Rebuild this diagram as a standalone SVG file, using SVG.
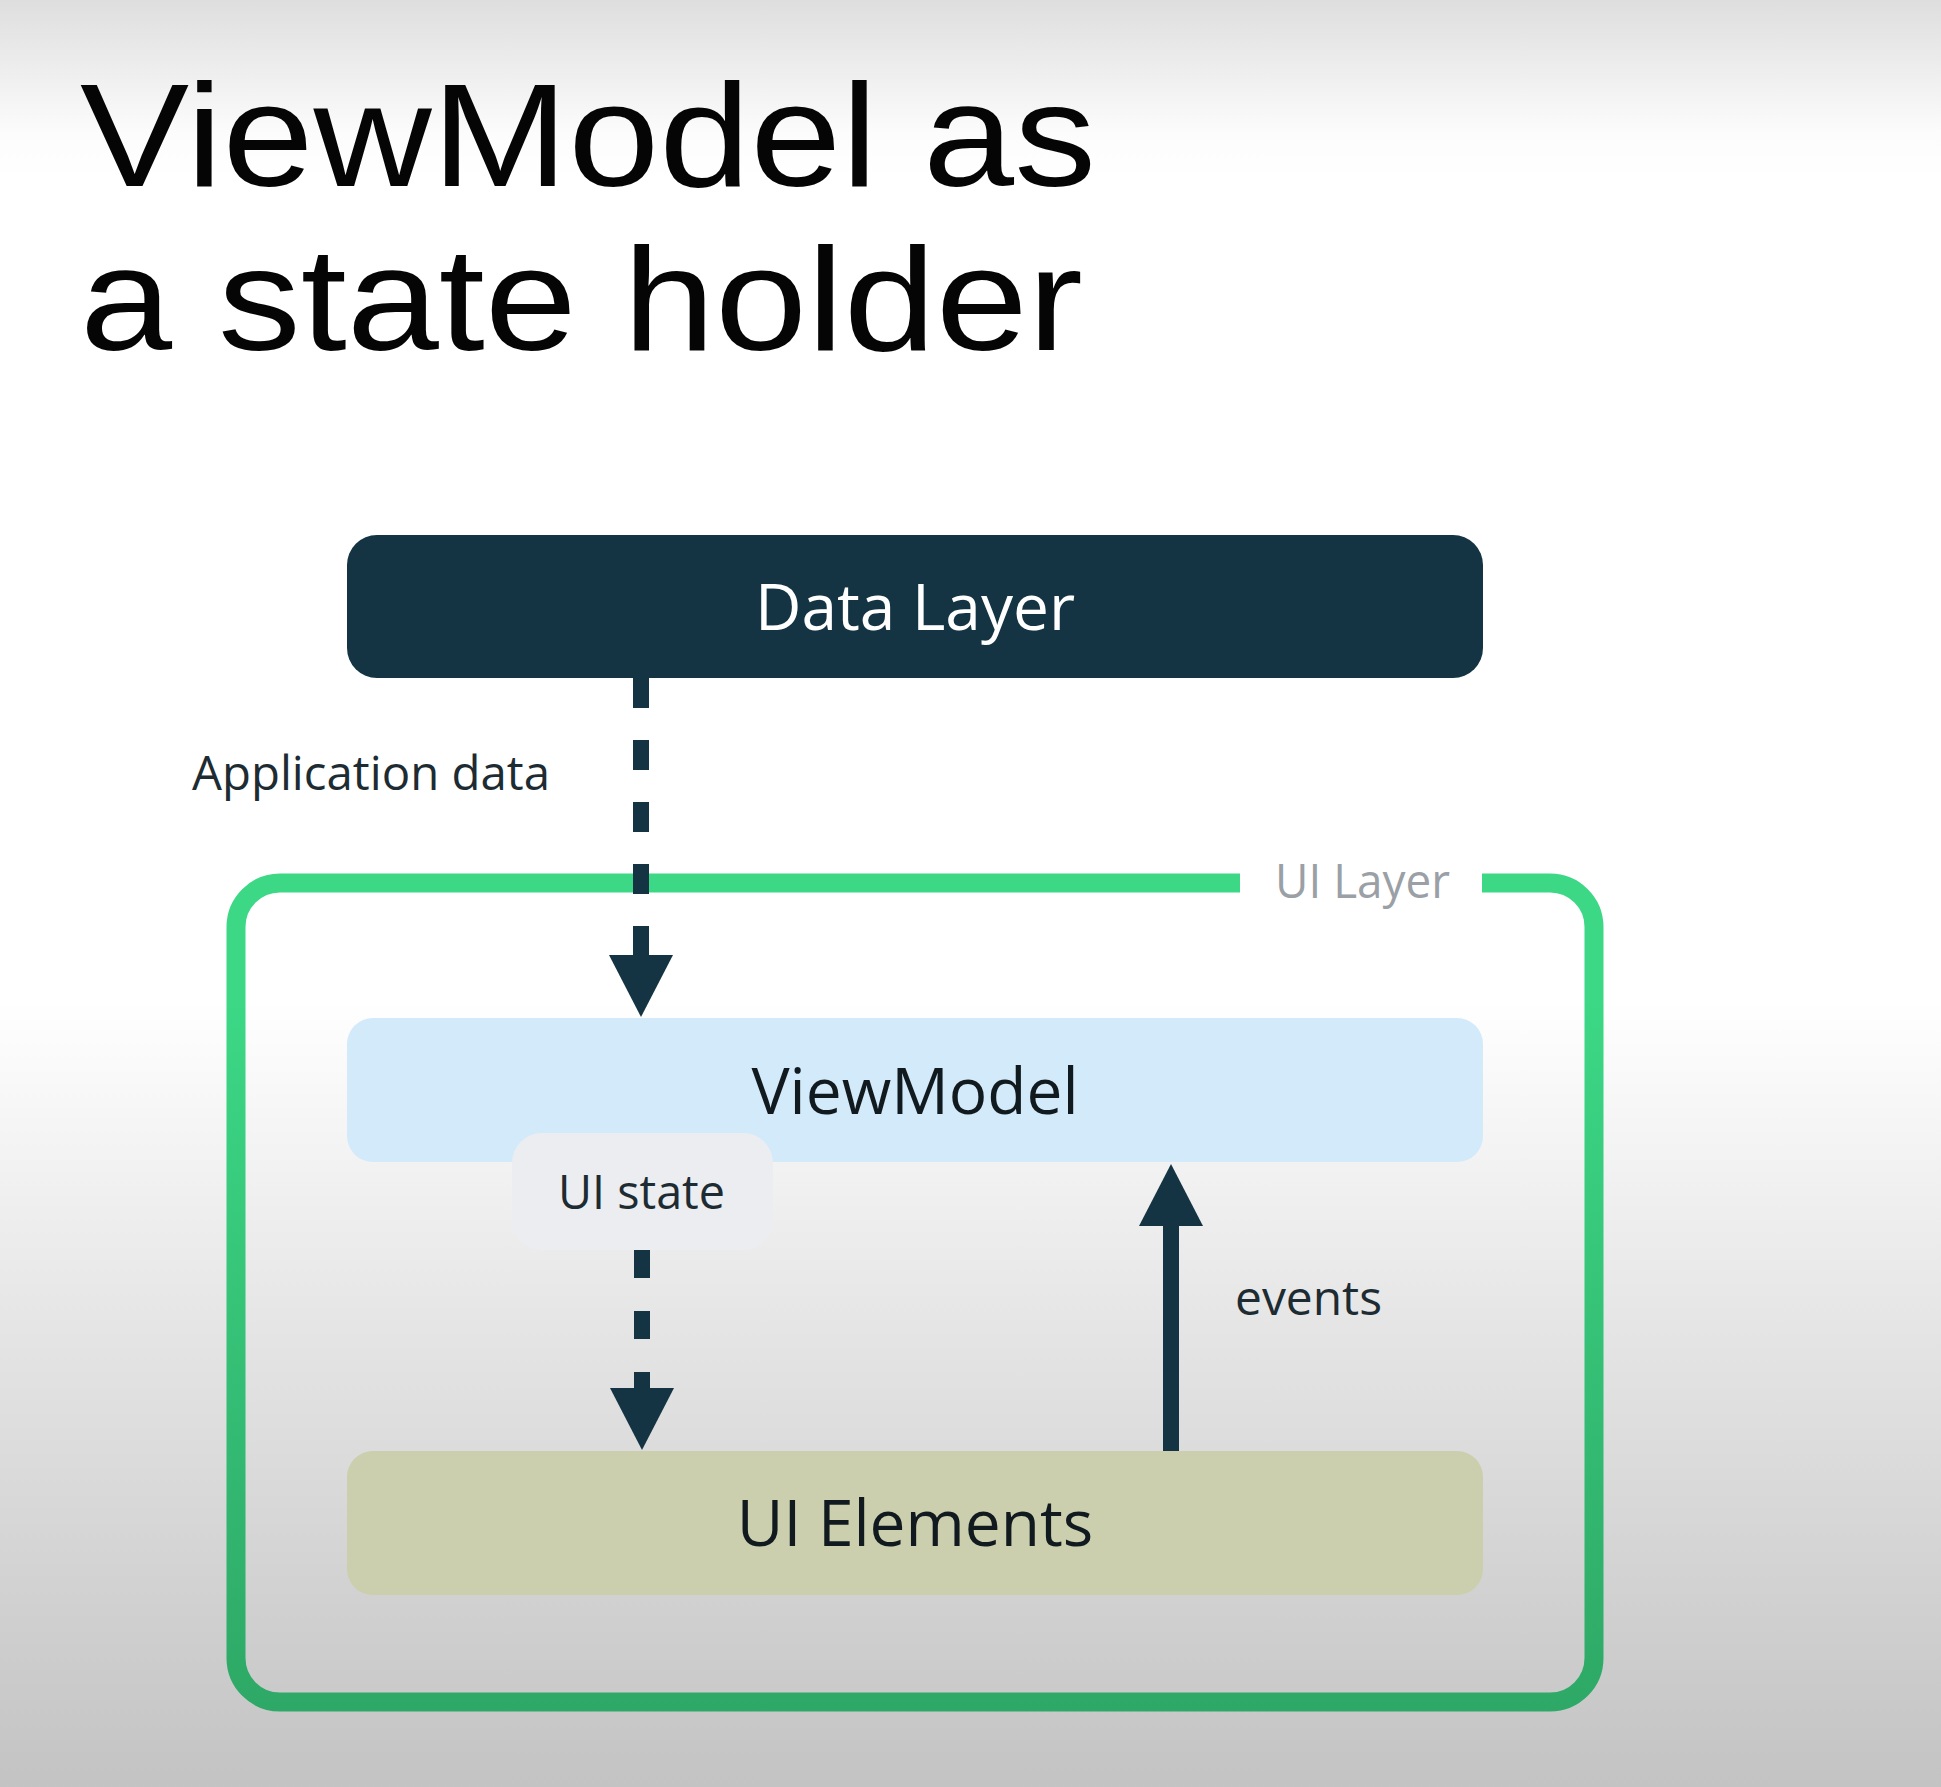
<svg xmlns="http://www.w3.org/2000/svg" width="1941" height="1787" viewBox="0 0 1941 1787">
  <style>
    .title { font-family: "Liberation Sans", Arial, sans-serif; font-size: 146px; fill: #050505; }
    .node-label { font-family: "Open Sans", "Liberation Sans", sans-serif; font-size: 64px; text-anchor: middle; }
    .edge-label { font-family: "Open Sans", "Liberation Sans", sans-serif; font-size: 47px; fill: #1d2b32; }
    .frame-label { font-family: "Open Sans", "Liberation Sans", sans-serif; font-size: 47px; fill: #9aa0a6; }
    .flow { fill: none; stroke: #143443; stroke-width: 16; stroke-linecap: butt; }
  </style>
  <defs>
    <linearGradient id="bg" x1="0" y1="0" x2="0" y2="1787" gradientUnits="userSpaceOnUse">
      <stop offset="0" stop-color="#dedede"/>
      <stop offset="0.075" stop-color="#fcfcfc"/>
      <stop offset="0.1" stop-color="#ffffff"/>
      <stop offset="0.56" stop-color="#ffffff"/>
      <stop offset="0.75" stop-color="#e4e4e4"/>
      <stop offset="1" stop-color="#c3c3c3"/>
    </linearGradient>
    <linearGradient id="frameStroke" x1="0" y1="1000" x2="0" y2="1712" gradientUnits="userSpaceOnUse">
      <stop offset="0" stop-color="#3cd886"/>
      <stop offset="1" stop-color="#2ea866"/>
    </linearGradient>
    <marker id="head" viewBox="0 0 62 64" refX="0" refY="32" markerWidth="62" markerHeight="64" markerUnits="userSpaceOnUse" orient="auto">
      <path d="M0,0 L62,32 L0,64 Z" fill="#143443"/>
    </marker>
  </defs>

  <rect x="0" y="0" width="1941" height="1787" fill="url(#bg)"/>

  <!-- heading -->
  <text class="title" x="80" y="186" textLength="1016" lengthAdjust="spacingAndGlyphs">ViewModel as</text>
  <text class="title" x="80" y="350" textLength="1003" lengthAdjust="spacingAndGlyphs">a state holder</text>

  <!-- UI layer frame, open at the top right for its label -->
  <g id="ui-layer">
    <path d="M1240,883 H280 A44,44 0 0 0 236,927 V1658 A44,44 0 0 0 280,1702 H1550 A44,44 0 0 0 1594,1658 V927 A44,44 0 0 0 1550,883 H1482"
          fill="none" stroke="url(#frameStroke)" stroke-width="19"/>
    <text class="frame-label" x="1275" y="898" textLength="175" lengthAdjust="spacingAndGlyphs">UI Layer</text>
  </g>

  <g id="data-layer">
    <rect x="347" y="535" width="1136" height="143" rx="30" fill="#143443"/>
    <text class="node-label" x="915" y="630" fill="#ffffff">Data Layer</text>
  </g>

  <g id="view-model">
    <rect x="347" y="1018" width="1136" height="144" rx="26" fill="#d3eafa"/>
    <text class="node-label" x="915" y="1114" fill="#111a1f">ViewModel</text>
  </g>

  <g id="ui-elements">
    <rect x="347" y="1451" width="1136" height="144" rx="26" fill="#cbcfae"/>
    <text class="node-label" x="915" y="1546" fill="#111a1f">UI Elements</text>
  </g>

  <g id="connectors">
    <path class="flow" d="M641,678 V955" stroke-dasharray="30 32" marker-end="url(#head)"/>
    <path class="flow" d="M642,1250 V1388" stroke-dasharray="28 33" marker-end="url(#head)"/>
    <path class="flow" d="M1171,1451 V1226" marker-end="url(#head)"/>
    <text class="edge-label" x="192" y="790" textLength="358" lengthAdjust="spacingAndGlyphs">Application data</text>
    <text class="edge-label" x="1235" y="1315" textLength="147" lengthAdjust="spacingAndGlyphs">events</text>
  </g>

  <g id="ui-state">
    <rect x="512" y="1133" width="261" height="117" rx="30" fill="#ecedf0"/>
    <text class="edge-label" x="558" y="1209" textLength="167" lengthAdjust="spacingAndGlyphs" fill="#111a1f">UI state</text>
  </g>
</svg>
